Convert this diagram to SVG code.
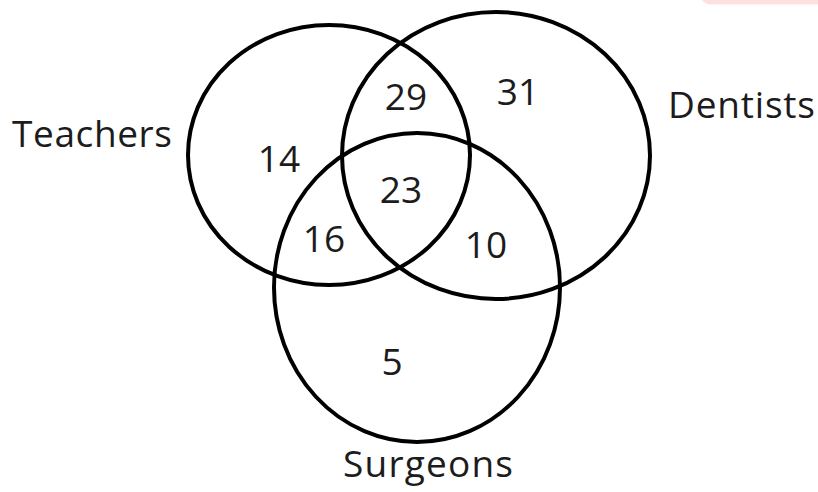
<svg xmlns="http://www.w3.org/2000/svg" width="818" height="492" viewBox="0 0 818 492">
<style>
.c{fill:none;stroke:#000;stroke-width:4}
.t{font-family:"Open Sans","Liberation Sans",sans-serif;font-size:37px;fill:#1c1c1c}
.n{text-anchor:middle}
</style>
<rect x="0" y="0" width="818" height="492" fill="#fff"/>
<rect x="701" y="-20" width="130" height="24.5" rx="9" fill="#fde1e1"/>
<g id="teachers">
<ellipse class="c" cx="329" cy="155" rx="141" ry="130"/>
<text class="t" x="12" y="147" textLength="160">Teachers</text>
</g>
<g id="dentists">
<ellipse class="c" cx="496" cy="155.5" rx="154" ry="143.5"/>
<text class="t" x="668" y="118" textLength="147">Dentists</text>
</g>
<g id="surgeons">
<ellipse class="c" cx="417" cy="287.5" rx="143" ry="154.5"/>
<text class="t" x="343" y="477" textLength="170">Surgeons</text>
</g>
<g id="counts">
<text class="t n" x="406" y="110">29</text>
<text class="t n" x="518" y="105">31</text>
<text class="t n" x="279" y="172">14</text>
<text class="t n" x="401" y="203">23</text>
<text class="t n" x="324" y="252">16</text>
<text class="t n" x="486" y="258">10</text>
<text class="t n" x="392" y="375">5</text>
</g>
<g id="connectors"></g>
</svg>
